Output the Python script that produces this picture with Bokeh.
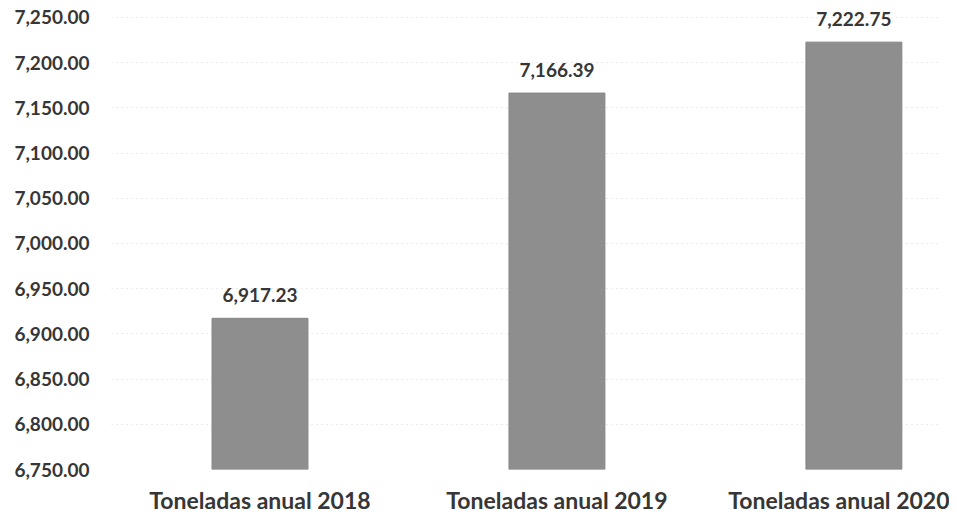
from bokeh.plotting import figure
from bokeh.models import ColumnDataSource, FixedTicker, NumeralTickFormatter, Range1d, LabelSet
from bokeh.core.properties import value
from bokeh.embed import file_html
from bokeh.resources import INLINE

categories = ["Toneladas anual 2018", "Toneladas anual 2019", "Toneladas anual 2020"]
values = [6917.23, 7166.39, 7222.75]
value_labels = ["6,917.23", "7,166.39", "7,222.75"]
y_ticks = [6750, 6800, 6850, 6900, 6950, 7000, 7050, 7100, 7150, 7200, 7250]

FONT = "Lato"
TXT = "#363636"

xs = [i for i in range(len(categories))]
src = ColumnDataSource(dict(x=xs, top=values, lab=value_labels, cat=categories))

# frame spans canvas y 0..470; 7250 sits 17px below the frame top
p = figure(width=949, height=516, output_backend="svg", toolbar_location=None,
           x_range=Range1d(-0.5, 2.295), y_range=Range1d(6750, 7268.8),
           min_border_left=111, min_border_right=8, min_border_top=0, min_border_bottom=46)
p.outline_line_color = None
p.background_fill_color = "white"

p.vbar(x="x", top="top", bottom=6750, width=0.323, source=src,
       fill_color="#8e8e8e", line_color="#858585", line_width=1)

labels = LabelSet(x="x", y="top", text="lab", source=src, y_offset=16,
                  text_align="center", text_baseline="alphabetic",
                  text_font=value(FONT), text_font_style="bold", text_font_size="19px",
                  text_color=TXT)
p.add_layout(labels)

p.yaxis.ticker = FixedTicker(ticks=y_ticks)
p.yaxis.formatter = NumeralTickFormatter(format="0,0.00")
p.yaxis.axis_line_color = None
p.yaxis.major_tick_line_color = None
p.yaxis.minor_tick_line_color = None
p.yaxis.major_label_standoff = 16
p.yaxis.major_label_text_font = FONT
p.yaxis.major_label_text_font_style = "bold"
p.yaxis.major_label_text_font_size = "19px"
p.yaxis.major_label_text_color = TXT

p.xaxis.ticker = FixedTicker(ticks=xs)
p.xaxis.major_label_overrides = {i: c for i, c in zip(xs, categories)}
p.xaxis.axis_line_color = None
p.xaxis.major_tick_line_color = None
p.xaxis.minor_tick_line_color = None
p.xaxis.major_label_standoff = 10
p.xaxis.major_label_text_font = FONT
p.xaxis.major_label_text_font_style = "bold"
p.xaxis.major_label_text_font_size = "23px"
p.xaxis.major_label_text_color = TXT

p.xgrid.grid_line_color = None
p.ygrid.grid_line_color = "#d8d8d8"
p.ygrid.grid_line_dash = "1 4"
p.ygrid.grid_line_width = 1

open("out.html", "w").write(file_html(p, INLINE))
